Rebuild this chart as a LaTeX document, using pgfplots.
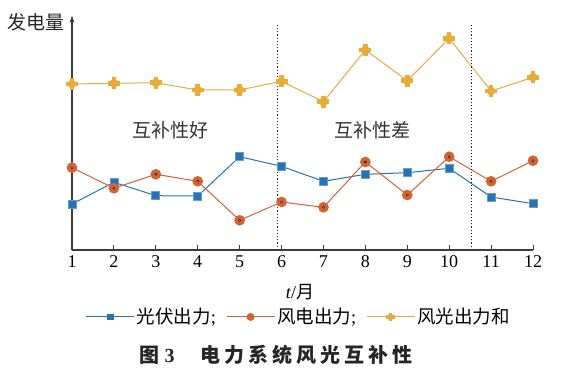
\documentclass[border=0pt]{standalone}
\usepackage{pgfplots}
\pgfplotsset{compat=1.18}
\usetikzlibrary{arrows.meta}
\usepackage{fontspec}
\setmainfont{Liberation Serif}
\newfontfamily\cjk{Noto Sans CJK SC}
\newfontfamily\cjkt{Noto Sans CJK SC}[LetterSpace=20]
\definecolor{cblue}{RGB}{40,114,180}
\definecolor{corange}{RGB}{212,98,52}
\definecolor{cyellow}{RGB}{231,172,58}
\definecolor{axgray}{RGB}{60,60,60}
\pgfdeclareplotmark{fatplus}{%
  \pgfpathrectangle{\pgfpoint{-\pgfplotmarksize}{-0.38\pgfplotmarksize}}{\pgfpoint{2\pgfplotmarksize}{0.76\pgfplotmarksize}}\pgfusepathqfill
  \pgfpathrectangle{\pgfpoint{-0.38\pgfplotmarksize}{-\pgfplotmarksize}}{\pgfpoint{0.76\pgfplotmarksize}{2\pgfplotmarksize}}\pgfusepathqfill
  \pgfpathcircle{\pgfpointorigin}{0.72\pgfplotmarksize}\pgfusepathqfill
}
\begin{document}
\begin{tikzpicture}
\path[use as bounding box] (0,0) rectangle (561pt,375pt);
\begin{axis}[
  at={(72pt,125pt)}, anchor=south west,
  scale only axis, width=461pt, height=235pt,
  xmin=1, xmax=12, ymin=0, ymax=235,
  clip=false,
  axis x line=bottom, axis y line=left,
  x axis line style={-},
  y axis line style={-{Latex[length=7pt,width=5pt]}},
  axis line style={axgray, line width=1.2pt},
  xtick={1,...,12}, ytick=\empty,
  xtick align=inside,
  major tick length=5pt,
  tick style={axgray, line width=1pt},
  /pgf/number format/assume math mode=true,
  xticklabel style={font=\fontsize{18}{20}\selectfont, yshift=-2pt},
  legend style={draw=none, fill=none, at={(0.492,-0.285)}, anchor=center,
    font=\fontsize{18.5}{20}\selectfont, inner sep=0pt,
    /tikz/every even column/.append style={column sep=8pt}},
  legend columns=3,
  legend cell align=left,
  legend image code/.code={%
    \draw[mark repeat=2,mark phase=2, mark options={scale=0.72}] plot coordinates {(0pt,0pt) (24pt,0pt) (48pt,0pt)};},
]
\addplot[cblue, line width=1pt, mark=square*, mark size=4pt,
  mark options={fill=cblue, draw=cblue!70!white, line width=0.8pt}]
  coordinates {(1,46)(2,67.7)(3,54.3)(4,54)(5,93.3)(6,83.7)(7,68.7)(8,75.7)(9,77.3)(10,81.7)(11,53)(12,46.3)};
\addlegendentry{{\cjk 光伏出力};}
\addplot[corange, line width=1pt, mark=*, mark size=4.8pt,
  mark options={fill=corange, draw=corange}]
  coordinates {(1,82.3)(2,61.7)(3,75.7)(4,68.7)(5,29.7)(6,48)(7,42.7)(8,88)(9,55)(10,93.3)(11,68.7)(12,89.3)};
\addlegendentry{{\cjk 风电出力};}
\addplot[cyellow, line width=1pt, mark=fatplus, mark size=6pt,
  mark options={fill=cyellow}]
  coordinates {(1,166)(2,166.7)(3,167.3)(4,160)(5,160)(6,168.7)(7,148.3)(8,200)(9,169.3)(10,211.7)(11,159)(12,172.7)};
\addlegendentry{{\cjk 风光出力和}}
\addplot[only marks, forget plot, mark=*, mark size=1.1pt, mark options={fill=white!75!corange, draw=none}]
  coordinates {(1,82.3)(2,61.7)(3,75.7)(4,68.7)(5,29.7)(6,48)(7,42.7)(8,88)(9,55)(10,93.3)(11,68.7)(12,89.3)};
\addplot[forget plot, black!85, line width=1.3pt, dash pattern=on 1.2pt off 2pt] coordinates {(5.9,0)(5.9,225)};
\addplot[forget plot, black!85, line width=1.3pt, dash pattern=on 1.2pt off 2pt] coordinates {(10.54,0)(10.54,225)};
\node[font=\fontsize{19}{21}\selectfont\cjk, text=black!80] at (axis cs:3.35,120) {互补性好};
\node[font=\fontsize{19}{21}\selectfont\cjk, text=black!80] at (axis cs:8.16,120) {互补性差};
\node[anchor=east, font=\fontsize{19}{21}\selectfont\cjk, text=black!85, inner sep=0pt] at (rel axis cs:-0.015,0.97) {发电量};
\node[font=\fontsize{18}{20}\selectfont, inner sep=0pt] at (axis cs:6.44,-42) {\textit{t}/{\cjk 月}};
\end{axis}
\node[font=\fontsize{20}{22}\selectfont\bfseries, text=black!85, inner sep=0pt] at (276pt,20pt) {{\cjk 图}\hspace{5pt}3\hspace{26pt}{\cjkt 电力系统风光互补性}};
\end{tikzpicture}
\end{document}
